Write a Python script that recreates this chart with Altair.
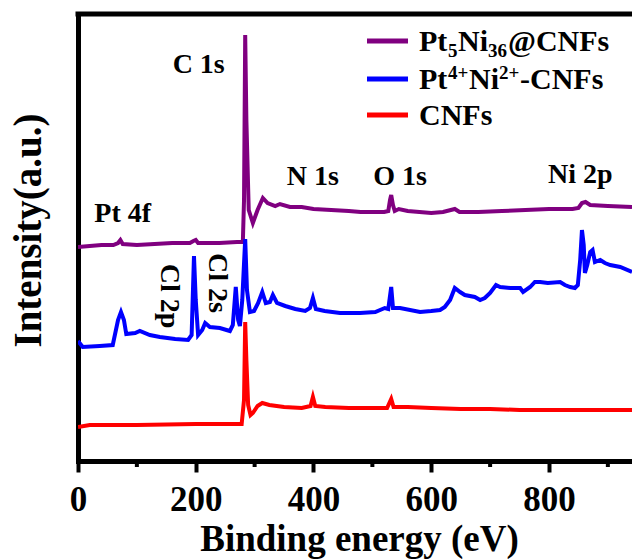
import altair as alt
import pandas as pd

# ---------------- data ----------------
series_names = ["Pt5Ni36@CNFs", "Pt4+Ni2+-CNFs", "CNFs"]
series_colors = ["#800080", "#0000FF", "#FF0000"]

purple_E = [0, 20, 40, 60, 68, 72, 76, 100, 130, 160, 190, 196, 200, 204, 240, 270, 280,
            282, 284, 286, 290, 297, 305, 314, 322, 335, 343, 360, 380, 400, 430, 460, 480,
            500, 520, 527, 530, 532, 535, 538, 545, 560, 580, 600, 620, 640, 648, 680, 720,
            760, 800, 840, 850, 856, 862, 870, 900, 941]
purple_I = [214, 215, 216, 216, 218, 221, 217, 216, 217, 218, 218, 220, 221, 218, 218, 219, 219,
            261, 426, 341, 251, 238, 251, 263, 258, 255, 257, 254, 254, 252, 251, 250, 249,
            249, 249, 250, 261, 266, 256, 250, 252, 250, 249, 248, 249, 252, 249, 249, 250,
            251, 252, 252, 253, 258, 259, 256, 255, 254]

blue_E = [0, 8, 37, 59, 68, 73, 78, 82, 97, 105, 122, 139, 165, 187, 193, 197, 200, 204,
          211, 216, 224, 241, 258, 263, 268, 272, 275, 279, 284, 287, 292, 299, 306, 313,
          319, 326, 331, 338, 352, 369, 386, 394, 399, 404, 419, 445, 479, 505, 521, 527,
          532, 535, 547, 581, 600, 615, 623, 632, 640, 649, 657, 674, 683, 691, 700, 710,
          717, 734, 751, 756, 768, 776, 785, 798, 819, 827, 836, 844, 849, 853, 856, 859,
          861, 865, 870, 874, 878, 887, 895, 904, 921, 941]
blue_I = [120, 114, 115, 116, 141, 149, 141, 127, 128, 130, 126, 124, 122, 121, 126, 205, 161, 126,
          131, 138, 134, 133, 130, 136, 174, 141, 135, 161, 222, 171, 149, 150, 158, 169,
          158, 159, 166, 158, 155, 152, 150, 153, 163, 152, 150, 148, 148, 149, 153, 152,
          174, 153, 153, 149, 150, 151, 154, 161, 173, 169, 166, 164, 161, 163, 168, 176,
          174, 173, 173, 169, 174, 179, 179, 178, 179, 176, 174, 173, 176, 201, 231, 216,
          188, 196, 209, 211, 199, 201, 198, 196, 194, 189]

red_E = [0, 20, 100, 200, 278, 282, 284, 286, 289, 293, 297, 305, 313, 325, 350, 380, 395,
         399, 403, 420, 460, 500, 525, 532, 536, 560, 600, 650, 700, 750, 800, 850, 900, 941]
red_I = [34, 36, 36, 37, 37, 61, 139, 101, 56, 46, 48, 55, 58, 56, 54, 53, 55,
         64, 55, 54, 53, 53, 53, 62, 54, 54, 53, 52, 52, 51, 51, 51, 51, 51]

x_ticks = [0, 200, 400, 600, 800]
x_minor = [100, 300, 500, 700, 900]

peak_labels = ["C 1s", "N 1s", "O 1s", "Ni 2p", "Pt 4f"]
peak_E = [205, 399, 547, 853, 76]
peak_I = [388, 276, 276, 278, 239]

rot_labels = ["Cl 2p", "Cl 2s"]
rot_E = [155, 236]
rot_I = [165, 178]

# ---------------- layout ----------------
FONT = "Liberation Serif"
W, H = 554, 447
X_TITLE = "Binding energy (eV)"
Y_TITLE = "Intensity(a.u.)"
x_scale = alt.Scale(domain=[0, 941], nice=False, zero=False)
y_scale = alt.Scale(domain=[0, 447], nice=False, zero=False)

rows = []
for name, es, ins in zip(series_names, [purple_E, blue_E, red_E], [purple_I, blue_I, red_I]):
    for e, i in zip(es, ins):
        rows.append({"E": e, "I": i, "series": name})
df = pd.DataFrame(rows)

lines = alt.Chart(df).mark_line(strokeWidth=4, clip=True).encode(
    x=alt.X("E:Q", scale=x_scale, title=X_TITLE,
            axis=alt.Axis(values=x_ticks, format="d", labelFlush=False)),
    y=alt.Y("I:Q", scale=y_scale, title=Y_TITLE),
    color=alt.Color("series:N", scale=alt.Scale(domain=series_names, range=series_colors),
                    legend=None),
)

minor = alt.Chart(pd.DataFrame({"E": x_minor})).mark_rule(strokeWidth=4, color="black").encode(
    x=alt.X("E:Q", scale=x_scale, title=X_TITLE),
    y=alt.value(H),
    y2=alt.value(H + 6),
)

top_border = alt.Chart(pd.DataFrame({"a": [0]})).mark_rule(strokeWidth=5, color="black").encode(
    x=alt.value(-2.5), x2=alt.value(W + 10), y=alt.value(0)
)

ann_df = pd.DataFrame({"E": peak_E, "I": peak_I, "label": peak_labels})
ann = alt.Chart(ann_df).mark_text(font=FONT, fontSize=28, fontWeight="bold", color="black",
                                  baseline="alphabetic", align="center").encode(
    x=alt.X("E:Q", scale=x_scale, title=X_TITLE),
    y=alt.Y("I:Q", scale=y_scale, title=Y_TITLE),
    text="label:N",
)

rot_df = pd.DataFrame({"E": rot_E, "I": rot_I, "label": rot_labels})
rot = alt.Chart(rot_df).mark_text(font=FONT, fontSize=28, fontWeight="bold", color="black",
                                  baseline="middle", align="center", angle=90).encode(
    x=alt.X("E:Q", scale=x_scale, title=X_TITLE),
    y=alt.Y("I:Q", scale=y_scale, title=Y_TITLE),
    text="label:N",
)

# manual legend (pixel positions inside the plot area)
leg_lines = pd.DataFrame({
    "x": [289, 289, 289], "x2": [330, 330, 330], "y": [27, 65, 101],
    "c": series_colors,
})
legend_rules = alt.Chart(leg_lines).mark_rule(strokeWidth=5).encode(
    x=alt.X("x:Q", scale=None), x2="x2:Q",
    y=alt.Y("y:Q", scale=None),
    color=alt.Color("c:N", scale=None, legend=None),
)

BIG, SMALL = 30, 19
pieces = [
    # row 1: Pt5Ni36@CNFs
    ("Pt", 341, 37, BIG), ("5", 370, 43, SMALL), ("Ni", 380, 37, BIG),
    ("36", 410, 43, SMALL), ("@CNFs", 430, 37, BIG),
    # row 2: Pt4+Ni2+-CNFs
    ("Pt", 341, 75, BIG), ("4+", 370, 65, SMALL), ("Ni", 391, 75, BIG),
    ("2+", 421, 65, SMALL), ("-CNFs", 442, 75, BIG),
    # row 3
    ("CNFs", 341, 111, BIG),
]
leg_txt = pd.DataFrame(pieces, columns=["t", "x", "y", "s"])
legend_text = alt.Chart(leg_txt).mark_text(font=FONT, fontWeight="bold", color="black",
                                           align="left", baseline="alphabetic").encode(
    x=alt.X("x:Q", scale=None),
    y=alt.Y("y:Q", scale=None),
    text="t:N",
    size=alt.Size("s:Q", scale=None, legend=None),
)

chart = alt.layer(lines, minor, top_border, ann, rot, legend_rules, legend_text).properties(
    width=W, height=H, autosize="none",
    padding={"left": 78, "top": 14, "right": 0, "bottom": 98},
    background="white",
).configure_view(
    stroke=None
).configure_axisX(
    grid=False, labelFont=FONT, labelFontSize=35, labelFontWeight="bold",
    labelColor="black", labelPadding=10, labelFlush=False,
    tickSize=11, tickWidth=4, tickColor="black",
    domainColor="black", domainWidth=5, domainCap="square",
    titleFont=FONT, titleFontSize=37, titleFontWeight="bold",
    titleColor="black", titleX=281, titleY=89,
    titleBaseline="alphabetic", titleAlign="center",
).configure_axisY(
    labels=False, ticks=False, grid=False,
    domainColor="black", domainWidth=5, domainCap="square",
    titleFont=FONT, titleFontSize=39, titleFontWeight="bold",
    titleColor="black", titleX=-38, titleY=216, titleAngle=270,
    titleBaseline="alphabetic", titleAlign="center",
)

chart.save("out.html", embed_options={"renderer": "svg", "actions": False})
